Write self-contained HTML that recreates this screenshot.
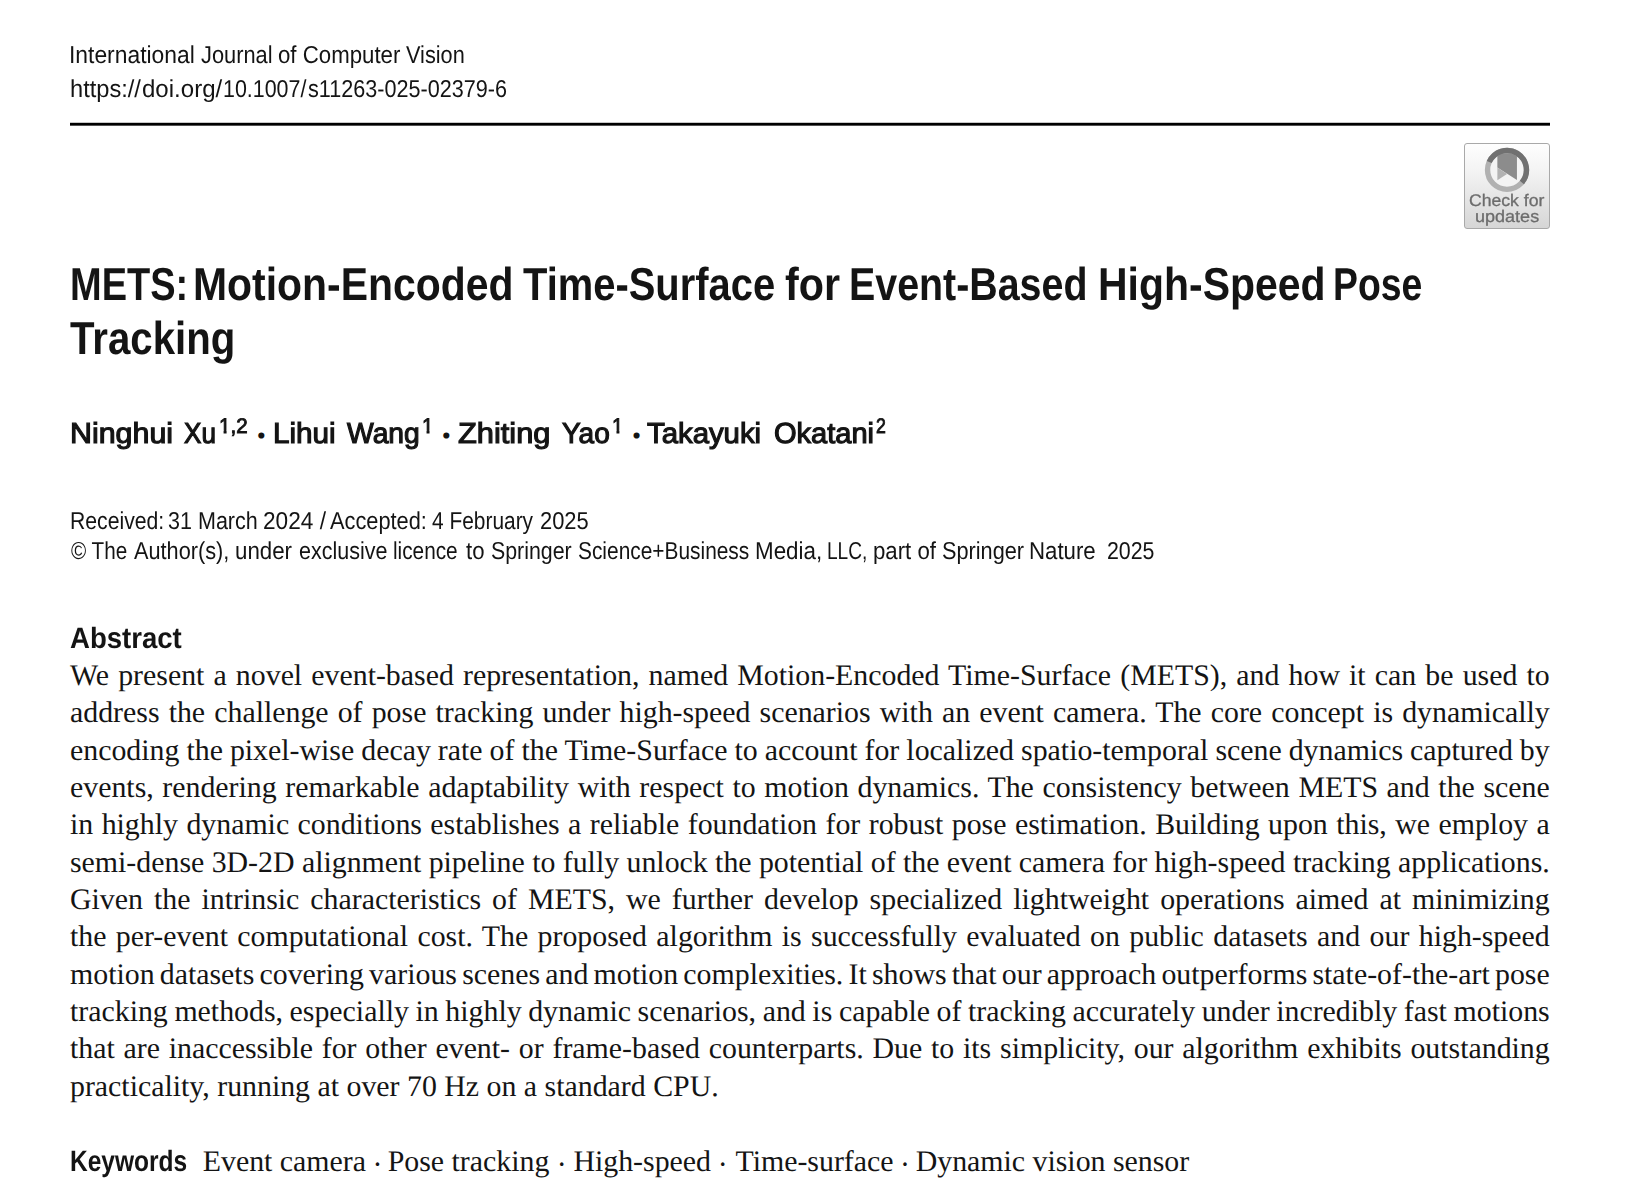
<!DOCTYPE html>
<html lang="en"><head><meta charset="utf-8"><title>METS: Motion-Encoded Time-Surface for Event-Based High-Speed Pose Tracking</title>
<style>
html,body{margin:0;padding:0;background:#fff;}
body{width:1651px;height:1198px;position:relative;overflow:hidden;}
.l{position:absolute;white-space:pre;line-height:1.2;transform-origin:0 0;margin:0;padding:0;color:#141414;font-kerning:normal;text-rendering:geometricPrecision;}
.rule{position:absolute;left:70px;top:122px;width:1480px;height:4px;background:linear-gradient(rgba(0,0,0,.22) 0,rgba(0,0,0,.22) 1px,#000 1px,#000 3px,rgba(0,0,0,.68) 3px,rgba(0,0,0,.68) 4px);}
.g{margin:0;padding:0;font:inherit;display:block;position:static;}
</style></head><body>
<div class="rule"></div>
<header class="g">
<div class="l" id="j1_0" style='left:69.03px;top:41.00px;font-family:"Liberation Sans", sans-serif;font-size:24.5px;transform:scaleX(0.9326);'>International </div>
<div class="l" id="j1_1" style='left:200.80px;top:41.00px;font-family:"Liberation Sans", sans-serif;font-size:24.5px;transform:scaleX(0.8911);'>Journal </div>
<div class="l" id="j1_2" style='left:277.89px;top:41.00px;font-family:"Liberation Sans", sans-serif;font-size:24.5px;transform:scaleX(0.9075);'>of Computer </div>
<div class="l" id="j1_3" style='left:406.40px;top:41.00px;font-family:"Liberation Sans", sans-serif;font-size:24.5px;transform:scaleX(0.8862);'>Vision</div>
<div class="l" id="j2_0" style='left:70.44px;top:74.80px;font-family:"Liberation Sans", sans-serif;font-size:24.5px;transform:scaleX(0.9644);'>https://</div>
<div class="l" id="j2_1" style='left:142.32px;top:74.80px;font-family:"Liberation Sans", sans-serif;font-size:24.5px;transform:scaleX(0.9815);'>doi.org/</div>
<div class="l" id="j2_2" style='left:223.43px;top:74.80px;font-family:"Liberation Sans", sans-serif;font-size:24.5px;transform:scaleX(0.8737);'>10.1007/</div>
<div class="l" id="j2_3" style='left:308.00px;top:74.80px;font-family:"Liberation Sans", sans-serif;font-size:24.5px;transform:scaleX(0.8818);'>s11263-025-02379-6</div>
</header>
<div class="g" id="crossmark">
<div id="badge" style="position:absolute;left:1464px;top:143px;width:86px;height:86px;box-sizing:border-box;border:1px solid #a9a9a9;border-radius:3px;background:linear-gradient(#fefefe 0%,#f4f4f4 30%,#d6d6d6 100%);">
<svg width="86" height="86" viewBox="0 0 86 86" style="position:absolute;left:-1px;top:-1px;overflow:visible">
  <circle cx="43" cy="26.9" r="17" fill="#f3f3f3"/>
  <polygon points="33.35,9.9 52.95,9.9 52.95,37.1 33.35,24.55" fill="#8c8c8c"/>
  <polygon points="33.35,24.55 43.05,31.1 33.35,37.2" fill="#b2b2b2"/>
  <circle cx="43" cy="26.9" r="19.45" fill="none" stroke="#b1b1b1" stroke-width="5.4"/>
  <path d="M 25.23 18.99 A 19.45 19.45 0 1 1 57.9 39.4" fill="none" stroke="#707070" stroke-width="5.4"/>
</svg>
</div>
<div class="l" id="c1" style='left:1469.30px;top:190.90px;font-family:"Liberation Sans", sans-serif;font-size:16.8px;color:#6c6c6c;-webkit-text-stroke:0.3px #6c6c6c;filter:blur(.35px);transform:scaleX(1.0486);'>Check for </div>
<div class="l" id="c2" style='left:1474.73px;top:206.85px;font-family:"Liberation Sans", sans-serif;font-size:16.8px;color:#6c6c6c;-webkit-text-stroke:0.3px #6c6c6c;filter:blur(.35px);transform:scaleX(1.0741);'>updates</div>
</div>
<h1 class="g">
<div class="l" id="t1a" style='left:69.63px;top:256.70px;font-family:"Liberation Sans", sans-serif;font-size:46.2px;font-weight:700;transform:scaleX(0.8226);'>METS: </div>
<div class="l" id="t1b" style='left:193.04px;top:256.70px;font-family:"Liberation Sans", sans-serif;font-size:46.2px;font-weight:700;transform:scaleX(0.8857);'>Motion-Encoded </div>
<div class="l" id="t1c" style='left:522.60px;top:256.70px;font-family:"Liberation Sans", sans-serif;font-size:46.2px;font-weight:700;transform:scaleX(0.8643);'>Time-Surface </div>
<div class="l" id="t1d" style='left:784.70px;top:256.70px;font-family:"Liberation Sans", sans-serif;font-size:46.2px;font-weight:700;transform:scaleX(0.8934);'>for </div>
<div class="l" id="t1e" style='left:848.74px;top:256.70px;font-family:"Liberation Sans", sans-serif;font-size:46.2px;font-weight:700;transform:scaleX(0.8522);'>Event-Based </div>
<div class="l" id="t1f" style='left:1097.84px;top:256.70px;font-family:"Liberation Sans", sans-serif;font-size:46.2px;font-weight:700;transform:scaleX(0.8869);'>High-Speed </div>
<div class="l" id="t1g" style='left:1332.77px;top:256.70px;font-family:"Liberation Sans", sans-serif;font-size:46.2px;font-weight:700;transform:scaleX(0.8085);'>Pose</div>
<div class="l" id="t2" style='left:69.60px;top:311.00px;font-family:"Liberation Sans", sans-serif;font-size:46.2px;font-weight:700;transform:scaleX(0.8706);'>Tracking</div>
</h1>
<div class="g" id="authors">
<div class="l" id="a1" style='left:70.35px;top:416.80px;font-family:"Liberation Sans", sans-serif;font-size:28.9px;-webkit-text-stroke:1.15px #141414;transform:scaleX(1.0521);'>Ninghui </div>
<div class="l" id="a2" style='left:184.40px;top:416.80px;font-family:"Liberation Sans", sans-serif;font-size:28.9px;-webkit-text-stroke:1.15px #141414;transform:scaleX(0.9028);'>Xu</div>
<div class="l" id="a3" style='left:218.82px;top:413.90px;font-family:"Liberation Sans", sans-serif;font-size:21.0px;-webkit-text-stroke:0.9px #141414;clip-path:polygon(0 0,100% 0,100% 100%,11.68px 100%,11.68px 16.88px,7.74px 16.88px,7.74px 100%,4.68px 100%,4.68px 16.88px,0 16.88px);transform:scaleX(0.9786);'>1,2</div>
<div class="l" id="a4" style='left:245.50px;top:414.20px;font-family:"Liberation Serif", serif;font-size:37.8px;font-weight:700;'> · </div>
<div class="l" id="a5" style='left:272.67px;top:416.80px;font-family:"Liberation Sans", sans-serif;font-size:28.9px;-webkit-text-stroke:1.15px #141414;transform:scaleX(1.0271);'>Lihui </div>
<div class="l" id="a6" style='left:347.38px;top:416.80px;font-family:"Liberation Sans", sans-serif;font-size:28.9px;-webkit-text-stroke:1.15px #141414;transform:scaleX(0.9787);'>Wang</div>
<div class="l" id="a7" style='left:421.93px;top:413.90px;font-family:"Liberation Sans", sans-serif;font-size:21.0px;-webkit-text-stroke:0.9px #141414;clip-path:polygon(0 0,100% 0,100% 16.88px,7.74px 16.88px,7.74px 100%,4.68px 100%,4.68px 16.88px,0 16.88px);transform:scaleX(0.9714);'>1</div>
<div class="l" id="a8" style='left:430.60px;top:414.20px;font-family:"Liberation Serif", serif;font-size:37.8px;font-weight:700;'> · </div>
<div class="l" id="a9" style='left:457.80px;top:416.80px;font-family:"Liberation Sans", sans-serif;font-size:28.9px;-webkit-text-stroke:1.15px #141414;transform:scaleX(1.0663);'>Zhiting </div>
<div class="l" id="a10" style='left:562.37px;top:416.80px;font-family:"Liberation Sans", sans-serif;font-size:28.9px;-webkit-text-stroke:1.15px #141414;transform:scaleX(0.9700);'>Yao</div>
<div class="l" id="a11" style='left:611.94px;top:413.90px;font-family:"Liberation Sans", sans-serif;font-size:21.0px;-webkit-text-stroke:0.9px #141414;clip-path:polygon(0 0,100% 0,100% 16.88px,7.74px 16.88px,7.74px 100%,4.68px 100%,4.68px 16.88px,0 16.88px);transform:scaleX(0.9571);'>1</div>
<div class="l" id="a12" style='left:620.70px;top:414.20px;font-family:"Liberation Serif", serif;font-size:37.8px;font-weight:700;'> · </div>
<div class="l" id="a13" style='left:647.10px;top:416.80px;font-family:"Liberation Sans", sans-serif;font-size:28.9px;-webkit-text-stroke:1.15px #141414;transform:scaleX(1.0152);'>Takayuki </div>
<div class="l" id="a14" style='left:773.70px;top:416.80px;font-family:"Liberation Sans", sans-serif;font-size:28.9px;-webkit-text-stroke:1.15px #141414;transform:scaleX(1.0051);'>Okatani</div>
<div class="l" id="a15" style='left:875.70px;top:413.90px;font-family:"Liberation Sans", sans-serif;font-size:21.0px;-webkit-text-stroke:0.9px #141414;transform:scaleX(0.8417);'>2</div>
</div>
<div class="g" id="history">
<div class="l" id="r1_0" style='left:69.67px;top:506.80px;font-family:"Liberation Sans", sans-serif;font-size:24.5px;transform:scaleX(0.8648);'>Received: </div>
<div class="l" id="r1_1" style='left:168.12px;top:506.80px;font-family:"Liberation Sans", sans-serif;font-size:24.5px;transform:scaleX(0.8790);'>31 March </div>
<div class="l" id="r1_2" style='left:262.78px;top:506.80px;font-family:"Liberation Sans", sans-serif;font-size:24.5px;transform:scaleX(0.9239);'>2024 /</div>
<div class="l" id="r1_3" style='left:329.70px;top:506.80px;font-family:"Liberation Sans", sans-serif;font-size:24.5px;transform:scaleX(0.8888);'>Accepted: </div>
<div class="l" id="r1_4" style='left:432.30px;top:506.80px;font-family:"Liberation Sans", sans-serif;font-size:24.5px;transform:scaleX(0.8529);'>4 February </div>
<div class="l" id="r1_5" style='left:539.71px;top:506.80px;font-family:"Liberation Sans", sans-serif;font-size:24.5px;transform:scaleX(0.8943);'>2025</div>
<div class="l" id="r2_0" style='left:70.90px;top:536.60px;font-family:"Liberation Sans", sans-serif;font-size:24.5px;transform:scaleX(0.8439);'>© The </div>
<div class="l" id="r2_1" style='left:134.20px;top:536.60px;font-family:"Liberation Sans", sans-serif;font-size:24.5px;transform:scaleX(0.8858);'>Author(s), </div>
<div class="l" id="r2_2" style='left:235.49px;top:536.60px;font-family:"Liberation Sans", sans-serif;font-size:24.5px;transform:scaleX(0.9097);'>under </div>
<div class="l" id="r2_3" style='left:298.52px;top:536.60px;font-family:"Liberation Sans", sans-serif;font-size:24.5px;transform:scaleX(0.8768);'>exclusive </div>
<div class="l" id="r2_4" style='left:392.85px;top:536.60px;font-family:"Liberation Sans", sans-serif;font-size:24.5px;transform:scaleX(0.8480);'>licence </div>
<div class="l" id="r2_5" style='left:465.70px;top:536.60px;font-family:"Liberation Sans", sans-serif;font-size:24.5px;transform:scaleX(0.9050);'>to </div>
<div class="l" id="r2_6" style='left:490.53px;top:536.60px;font-family:"Liberation Sans", sans-serif;font-size:24.5px;transform:scaleX(0.8717);'>Springer </div>
<div class="l" id="r2_7" style='left:578.35px;top:536.60px;font-family:"Liberation Sans", sans-serif;font-size:24.5px;transform:scaleX(0.8525);'>Science+Business </div>
<div class="l" id="r2_8" style='left:755.37px;top:536.60px;font-family:"Liberation Sans", sans-serif;font-size:24.5px;transform:scaleX(0.9129);'>Media, </div>
<div class="l" id="r2_9" style='left:826.84px;top:536.60px;font-family:"Liberation Sans", sans-serif;font-size:24.5px;transform:scaleX(0.7792);'>LLC, </div>
<div class="l" id="r2_10" style='left:872.89px;top:536.60px;font-family:"Liberation Sans", sans-serif;font-size:24.5px;transform:scaleX(0.9072);'>part of </div>
<div class="l" id="r2_11" style='left:942.11px;top:536.60px;font-family:"Liberation Sans", sans-serif;font-size:24.5px;transform:scaleX(0.8859);'>Springer </div>
<div class="l" id="r2_12" style='left:1029.49px;top:536.60px;font-family:"Liberation Sans", sans-serif;font-size:24.5px;transform:scaleX(0.9070);'>Nature </div>
<div class="l" id="r2_13" style='left:1100.83px;top:536.60px;font-family:"Liberation Sans", sans-serif;font-size:24.5px;transform:scaleX(0.8717);'> 2025</div>
</div>
<section class="g" id="abstract">
<h2 class="g"><div class="l" id="ah" style='left:70.20px;top:620.70px;font-family:"Liberation Sans", sans-serif;font-size:29.5px;font-weight:700;transform:scaleX(0.9342);'>Abstract </div></h2>
<div class="g"><div class="l" id="b0" style='left:70.00px;top:658.00px;font-family:"Liberation Serif", serif;font-size:29.85px;word-spacing:1.676px;'>We present a novel event-based representation, named Motion-Encoded Time-Surface (METS), and how it can be used to</div>
<div class="l" id="b1" style='left:70.00px;top:695.34px;font-family:"Liberation Serif", serif;font-size:29.85px;word-spacing:1.671px;'>address the challenge of pose tracking under high-speed scenarios with an event camera. The core concept is dynamically</div>
<div class="l" id="b2" style='left:70.00px;top:732.68px;font-family:"Liberation Serif", serif;font-size:29.85px;word-spacing:-0.436px;'>encoding the pixel-wise decay rate of the Time-Surface to account for localized spatio-temporal scene dynamics captured by</div>
<div class="l" id="b3" style='left:70.00px;top:770.02px;font-family:"Liberation Serif", serif;font-size:29.85px;word-spacing:1.169px;'>events, rendering remarkable adaptability with respect to motion dynamics. The consistency between METS and the scene</div>
<div class="l" id="b4" style='left:70.00px;top:807.36px;font-family:"Liberation Serif", serif;font-size:29.85px;word-spacing:0.985px;'>in highly dynamic conditions establishes a reliable foundation for robust pose estimation. Building upon this, we employ a</div>
<div class="l" id="b5" style='left:70.00px;top:844.70px;font-family:"Liberation Serif", serif;font-size:29.85px;word-spacing:-0.078px;'>semi-dense 3D-2D alignment pipeline to fully unlock the potential of the event camera for high-speed tracking applications.</div>
<div class="l" id="b6" style='left:70.00px;top:882.04px;font-family:"Liberation Serif", serif;font-size:29.85px;word-spacing:3.579px;'>Given the intrinsic characteristics of METS, we further develop specialized lightweight operations aimed at minimizing</div>
<div class="l" id="b7" style='left:70.00px;top:919.38px;font-family:"Liberation Serif", serif;font-size:29.85px;word-spacing:1.923px;'>the per-event computational cost. The proposed algorithm is successfully evaluated on public datasets and our high-speed</div>
<div class="l" id="b8" style='left:70.00px;top:956.72px;font-family:"Liberation Serif", serif;font-size:29.85px;word-spacing:-2.243px;'>motion datasets covering various scenes and motion complexities. It shows that our approach outperforms state-of-the-art pose</div>
<div class="l" id="b9" style='left:70.00px;top:994.06px;font-family:"Liberation Serif", serif;font-size:29.85px;word-spacing:-0.855px;'>tracking methods, especially in highly dynamic scenarios, and is capable of tracking accurately under incredibly fast motions</div>
<div class="l" id="b10" style='left:70.00px;top:1031.40px;font-family:"Liberation Serif", serif;font-size:29.85px;word-spacing:1.336px;'>that are inaccessible for other event- or frame-based counterparts. Due to its simplicity, our algorithm exhibits outstanding</div>
<div class="l" id="b11" style='left:70.00px;top:1068.74px;font-family:"Liberation Serif", serif;font-size:29.85px;'>practicality, running at over 70 Hz on a standard CPU.</div></div>
</section>
<section class="g" id="keywords">
<h2 class="g"><div class="l" id="kh" style='left:70.24px;top:1143.70px;font-family:"Liberation Sans", sans-serif;font-size:29.5px;font-weight:700;transform:scaleX(0.8312);'>Keywords </div></h2>
<div class="g"><div class="l" id="kw0" style='left:202.80px;top:1143.80px;font-family:"Liberation Serif", serif;font-size:29.85px;'>Event camera </div>
<div class="l" id="kd0" style='left:372.40px;top:1146.80px;font-family:"Liberation Serif", serif;font-size:29.85px;'>· </div>
<div class="l" id="kw1" style='left:387.70px;top:1143.80px;font-family:"Liberation Serif", serif;font-size:29.85px;'>Pose tracking </div>
<div class="l" id="kd1" style='left:556.85px;top:1146.80px;font-family:"Liberation Serif", serif;font-size:29.85px;'>· </div>
<div class="l" id="kw2" style='left:573.40px;top:1143.80px;font-family:"Liberation Serif", serif;font-size:29.85px;'>High-speed </div>
<div class="l" id="kd2" style='left:717.70px;top:1146.80px;font-family:"Liberation Serif", serif;font-size:29.85px;'>· </div>
<div class="l" id="kw3" style='left:735.50px;top:1143.80px;font-family:"Liberation Serif", serif;font-size:29.85px;'>Time-surface </div>
<div class="l" id="kd3" style='left:899.90px;top:1146.80px;font-family:"Liberation Serif", serif;font-size:29.85px;'>· </div>
<div class="l" id="kw4" style='left:915.70px;top:1143.80px;font-family:"Liberation Serif", serif;font-size:29.85px;'>Dynamic vision sensor</div></div>
</section>
</body></html>
